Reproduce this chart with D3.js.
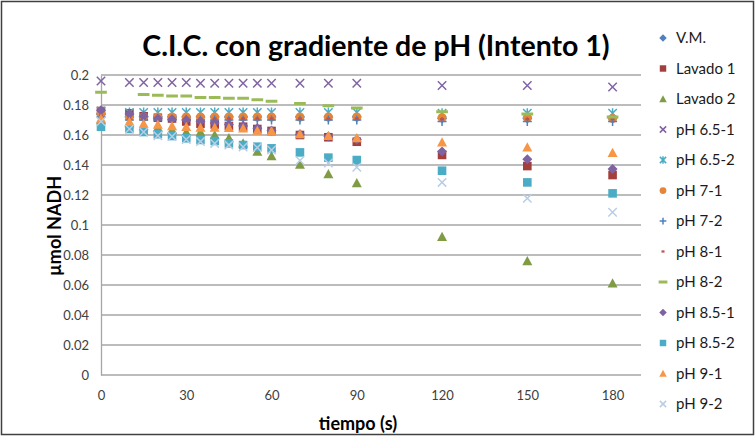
<!DOCTYPE html>
<html>
<head>
<meta charset="utf-8">
<script src="https://cdn.jsdelivr.net/npm/d3@7"></script>
<style>
  body { margin: 0; background: #fff; }
  svg { display: block; font-family: Lato, "Open Sans", sans-serif; }
</style>
</head>
<body>
<svg id="svg" width="756" height="437"></svg>
<script>
// time points (s)
var times = [0, 10, 15, 20, 25, 30, 35, 40, 45, 50, 55, 60, 70, 80, 90, 120, 150, 180];

var seriesNames = ["V.M.", "Lavado 1", "Lavado 2", "pH 6.5-1", "pH 6.5-2", "pH 7-1",
  "pH 7-2", "pH 8-1", "pH 8-2", "pH 8.5-1", "pH 8.5-2", "pH 9-1", "pH 9-2"];

var vm      = [0.174, 0.172, 0.172, 0.172, 0.172, 0.172, 0.172, 0.172, 0.172, 0.172, 0.172, 0.172, 0.172, 0.172, 0.172, 0.171, 0.171, 0.171];
var lavado1 = [0.176, 0.1745, 0.1725, 0.1715, 0.171, 0.169, 0.1675, 0.167, 0.166, 0.1655, 0.164, 0.1627, 0.160, 0.1585, 0.1555, 0.1467, 0.1393, 0.1333];
var lavado2 = [0.170, 0.168, 0.166, 0.165, 0.1635, 0.162, 0.162, 0.160, 0.158, 0.1545, 0.149, 0.146, 0.1404, 0.134, 0.128, 0.0922, 0.076, 0.0611];
var ph65_1  = [0.196, 0.195, 0.195, 0.195, 0.195, 0.195, 0.1945, 0.1945, 0.1945, 0.1945, 0.1945, 0.1945, 0.1945, 0.1945, 0.1945, 0.193, 0.193, 0.192];
var ph65_2  = [0.176, 0.175, 0.175, 0.175, 0.175, 0.175, 0.175, 0.175, 0.175, 0.175, 0.175, 0.175, 0.175, 0.175, 0.175, 0.1745, 0.1745, 0.1745];
var ph7_1   = [0.174, 0.172, 0.172, 0.172, 0.172, 0.172, 0.172, 0.172, 0.172, 0.172, 0.172, 0.172, 0.172, 0.172, 0.172, 0.1715, 0.1715, 0.171];
var ph7_2   = [0.172, 0.170, 0.170, 0.170, 0.170, 0.170, 0.170, 0.170, 0.170, 0.170, 0.170, 0.170, 0.170, 0.170, 0.170, 0.169, 0.169, 0.169];
var ph8_1   = [0.173, 0.171, 0.171, 0.171, 0.171, 0.171, 0.171, 0.171, 0.171, 0.171, 0.171, 0.171, 0.171, 0.171, 0.171, 0.1705, 0.1705, 0.1705];
var ph8_2   = [0.1885, null, 0.187, 0.1865, 0.186, 0.186, 0.185, 0.185, 0.1845, 0.1845, 0.1835, 0.1825, 0.181, 0.1795, 0.178, 0.1755, 0.174, 0.172];
var ph85_1  = [0.1765, 0.174, 0.1725, 0.171, 0.1705, 0.170, 0.169, 0.168, 0.167, 0.166, 0.1645, 0.163, 0.1605, 0.159, 0.157, 0.149, 0.1438, 0.1373];
var ph85_2  = [0.1655, 0.164, 0.162, 0.1605, 0.1593, 0.1578, 0.1567, 0.156, 0.1544, 0.1533, 0.1522, 0.1511, 0.1484, 0.1449, 0.1433, 0.1362, 0.1284, 0.1211];
var ph9_1   = [0.171, 0.169, 0.1675, 0.167, 0.166, 0.1655, 0.165, 0.165, 0.1648, 0.1645, 0.163, 0.1627, 0.1607, 0.1595, 0.158, 0.1551, 0.1518, 0.1482];
var ph9_2   = [0.169, 0.164, 0.162, 0.1595, 0.159, 0.157, 0.1556, 0.1544, 0.1533, 0.152, 0.1516, 0.150, 0.143, 0.1413, 0.1385, 0.1284, 0.1178, 0.1085];

var yTicks = [0, 0.02, 0.04, 0.06, 0.08, 0.1, 0.12, 0.14, 0.16, 0.18, 0.2];
var xTicks = [0, 30, 60, 90, 120, 150, 180];

var allValues = [vm, lavado1, lavado2, ph65_1, ph65_2, ph7_1, ph7_2, ph8_1, ph8_2, ph85_1, ph85_2, ph9_1, ph9_2];
var markers = ["diamond", "square", "triangle", "x", "star", "circle", "plus", "dash", "longdash", "diamond", "square", "triangle", "x"];
var colors = ["#4F81BD", "#A23F3C", "#7F9C45", "#8064A2", "#4BACC6", "#E4853A", "#4F81BD",
  "#C0504D", "#9BBB59", "#7E62A1", "#4BACC6", "#F79646", "#B9CDE5"];

var svg = d3.select("#svg");

// chart border
svg.append("rect")
  .attr("x", 1.5).attr("y", 1.5)
  .attr("width", 752).attr("height", 433)
  .attr("fill", "#fff")
  .attr("stroke", "#404040")
  .attr("stroke-width", 1.5);

var xScale = d3.scaleLinear().domain([0, 190]).range([101, 641]);
var yScale = d3.scaleLinear().domain([0, 0.2]).range([375, 75]);

// gridlines
svg.append("g")
  .selectAll("line")
  .data(yTicks)
  .enter()
  .append("line")
  .attr("x1", 101).attr("x2", 641)
  .attr("y1", d => yScale(d)).attr("y2", d => yScale(d))
  .attr("stroke", "#a6a6a6")
  .attr("stroke-width", 1.3);

// y axis
var yAxis = svg.append("g")
  .attr("transform", "translate(101,0)")
  .call(d3.axisLeft(yScale).tickValues(yTicks).tickSize(0).tickPadding(12)
    .tickFormat(d => String(+d.toFixed(2))));
yAxis.select(".domain").attr("stroke", "#a6a6a6").attr("stroke-width", 1.3);
yAxis.selectAll("text").attr("font-size", 13).attr("fill", "#404040")
  .attr("font-family", "Lato, sans-serif");

// x axis (labels only, below the plot)
var xAxis = svg.append("g")
  .attr("transform", "translate(0,387)")
  .call(d3.axisBottom(xScale).tickValues(xTicks).tickSize(0).tickPadding(4));
xAxis.select(".domain").remove();
xAxis.selectAll("text").attr("font-size", 13).attr("fill", "#404040")
  .attr("font-family", "Lato, sans-serif");

// markers
function markerPath(type, r) {
  if (type == "diamond") return `M0,${-r}L${r},0L0,${r}L${-r},0Z`;
  if (type == "square") return `M${-r},${-r}H${r}V${r}H${-r}Z`;
  if (type == "triangle") return `M0,${-r}L${r},${r * 0.85}L${-r},${r * 0.85}Z`;
  if (type == "x") return `M${-r},${-r}L${r},${r}M${r},${-r}L${-r},${r}`;
  if (type == "star") return `M${-r},${-r}L${r},${r}M${r},${-r}L${-r},${r}M0,${-r * 1.2}L0,${r * 1.2}`;
  if (type == "plus") return `M${-r},0H${r}M0,${-r}V${r}`;
  if (type == "dash") return `M${-r * 0.45},0H${r * 0.45}`;
  if (type == "longdash") return `M${-r * 1.3},0H${r * 1.3}`;
  return "";
}

function drawMarker(g, type, color, scale) {
  var filled = ["diamond", "square", "triangle"].indexOf(type) >= 0;
  if (type == "circle") {
    g.append("circle").attr("r", 4.5 * scale).attr("fill", color);
    return;
  }
  var r = {diamond: 5, square: 4.3, triangle: 5, x: 4.2, star: 4.2, plus: 4.5, dash: 4.5, longdash: 4.5}[type] * scale;
  var p = g.append("path").attr("d", markerPath(type, r));
  if (filled) {
    p.attr("fill", color);
  } else {
    p.attr("fill", "none").attr("stroke", color)
      .attr("stroke-width", type == "longdash" ? 3 : (type == "dash" ? 2.2 : 1.5));
  }
}

var plot = svg.append("g");
allValues.forEach(function (vals, si) {
  var pts = times.map((t, i) => [t, vals[i]]).filter(d => d[1] != null);
  plot.append("g")
    .selectAll("g")
    .data(pts)
    .enter()
    .append("g")
    .attr("transform", d => "translate(" + xScale(d[0]) + "," + yScale(d[1]) + ")")
    .each(function () {
      drawMarker(d3.select(this), markers[si], colors[si], 1);
    });
});

// title
svg.append("text")
  .attr("x", 376).attr("y", 56)
  .attr("text-anchor", "middle")
  .attr("font-size", 28.5)
  .attr("font-weight", "bold")
  .attr("fill", "#000")
  .text("C.I.C. con gradiente de pH (Intento 1)");

// axis titles
svg.append("text")
  .attr("transform", "translate(61,226) rotate(-90)")
  .attr("text-anchor", "middle")
  .attr("font-size", 18)
  .attr("font-weight", "bold")
  .text("µmol NADH");

svg.append("text")
  .attr("x", 358).attr("y", 430)
  .attr("text-anchor", "middle")
  .attr("font-size", 18)
  .attr("font-weight", "bold")
  .text("tiempo (s)");

// legend
var legend = svg.append("g");
seriesNames.forEach(function (name, i) {
  var y = 38 + i * 30.5;
  var g = legend.append("g").attr("transform", "translate(663," + y + ")");
  drawMarker(g, markers[i], colors[i], 0.75);
  legend.append("text")
    .attr("x", 676).attr("y", y + 5)
    .attr("font-size", 15)
    .attr("fill", "#1a1a1a")
    .text(name);
});
</script>
</body>
</html>
